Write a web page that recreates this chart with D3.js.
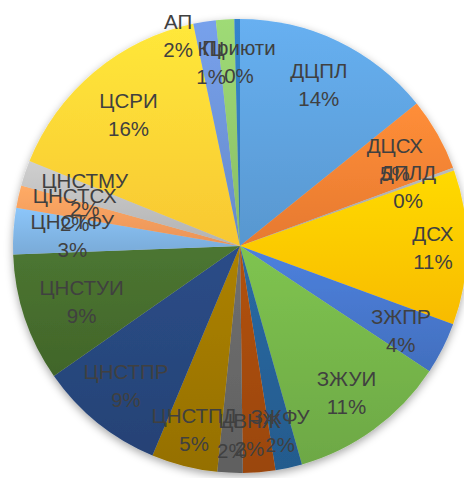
<!DOCTYPE html>
<html><head><meta charset="utf-8">
<script src="https://cdn.jsdelivr.net/npm/d3@7"></script>
<style>html,body{margin:0;padding:0;background:#fff;overflow:hidden}svg{display:block}</style>
</head><body>
<svg id="chart" width="464" height="478"></svg>
<script>
// ---- data ----
const categories = ["ДЦПЛ","ДЦСХ","ДПЛД","ДСХ","ЗЖПР","ЗЖУИ","ЗЖФУ","ЦВНЖ","","ЦНСТПД","ЦНСТПР","ЦНСТУИ","ЦНСТФУ","ЦНСТСХ","ЦНСТМУ","ЦСРИ","АП","КЦ","Приюти"];
const values = [14.2,5.2,0.2,11.0,3.7,11.3,1.9,2.3,1.8,4.7,9.0,9.1,3.3,1.6,1.8,15.6,1.6,1.3,0.4];
// ---- styles / layout ----
const colors = ["#5B9BD5","#ED7D31","#A5A5A5","#FFC000","#4472C4","#70AD47","#255E91","#9E480E","#636363","#997300","#264478","#43682B","#7CAFDD","#F1975A","#B7B7B7","#FFCD33","#698ED0","#8CC168","#2E75B6"];
const labelRadius = [0.79,0.78,0.785,0.85,0.80,0.80,0.835,0.834,0.842,0.835,0.795,0.74,0.74,0.745,0.72,0.76,0.965,0.815,0.81];
const labelShiftDeg = [0.5,0.5,0.4,0.2,0.9,0.3,0.2,2.0,-0.1,-0.2,0.3,-0.9,-0.4,-0.3,-0.5,-0.3,-7.4,-5.2,0.4];

const W = 464, H = 478, cx = 240, cy = 246, R = 227;
const svg = d3.select("#chart");
const defs = svg.append("defs");
const f = defs.append("filter").attr("id","shadow").attr("x","-10%").attr("y","-10%").attr("width","120%").attr("height","120%");
f.append("feDropShadow").attr("dx",0).attr("dy",3).attr("stdDeviation",4).attr("flood-color","#000").attr("flood-opacity",0.35);

colors.forEach((c,i)=>{
  const g = defs.append("linearGradient").attr("id","g"+i).attr("x1",0).attr("y1",0).attr("x2",0).attr("y2",1);
  g.append("stop").attr("offset","0%").attr("stop-color", d3.rgb(c).brighter(0.35).formatHex());
  g.append("stop").attr("offset","100%").attr("stop-color", d3.rgb(c).darker(0.08).formatHex());
});

const total = d3.sum(values);
const pie = d3.pie().sort(null).value(d=>d);
const arcs = pie(values);
const arc = d3.arc().innerRadius(0).outerRadius(R);

const g = svg.append("g").attr("transform",`translate(${cx},${cy})`);
g.append("g").attr("filter","url(#shadow)")
  .selectAll("path").data(arcs).enter().append("path")
  .attr("d",arc)
  .attr("fill",(d,i)=>`url(#g${i})`);

const lab = g.append("g").attr("font-family","'Liberation Sans', Arial, sans-serif")
  .attr("font-size",20.5).attr("fill","#404040").attr("text-anchor","middle");
arcs.forEach((d,i)=>{
  const a = (d.startAngle+d.endAngle)/2 + labelShiftDeg[i]*Math.PI/180;
  const r = labelRadius[i]*R;
  const x = r*Math.sin(a), y = -r*Math.cos(a);
  const t = lab.append("text").attr("x",x).attr("y",y);
  if (categories[i]) t.append("tspan").attr("x",x).attr("y",y-14).attr("dy","0.35em").text(categories[i]);
  t.append("tspan").attr("x",x).attr("y",y+14).attr("dy","0.35em").text(Math.round(values[i]/total*100)+"%");
});
</script>
</body></html>
